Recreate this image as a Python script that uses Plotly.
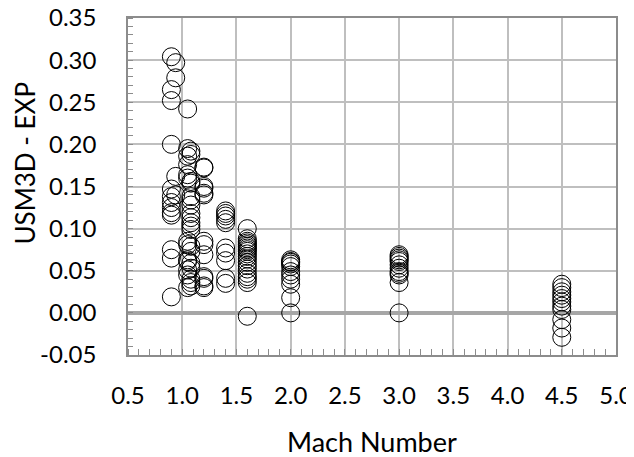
import plotly.graph_objects as go

# values, grouped by Mach number
mach_groups = [0.9, 0.94, 1.05, 1.08, 1.2, 1.4, 1.6, 2.0, 3.0, 4.5]

delta_m090 = [0.304, 0.265, 0.252, 0.200, 0.147, 0.138, 0.131, 0.125, 0.119,
              0.116, 0.075, 0.065, 0.019]
delta_m094 = [0.297, 0.279, 0.162, 0.140]
delta_m105 = [0.242, 0.195, 0.186, 0.176, 0.164, 0.160, 0.085, 0.081, 0.063,
              0.061, 0.051, 0.045, 0.030]
delta_m108 = [0.192, 0.188, 0.156, 0.154, 0.138, 0.134, 0.128, 0.118, 0.113,
              0.107, 0.103, 0.099, 0.079, 0.073, 0.059, 0.053, 0.040, 0.036,
              0.032]
delta_m120 = [0.173, 0.172, 0.150, 0.148, 0.142, 0.140, 0.085, 0.081, 0.069,
              0.043, 0.041, 0.032, 0.030]
delta_m140 = [0.121, 0.118, 0.115, 0.111, 0.107, 0.077, 0.071, 0.062, 0.041,
              0.035]
delta_m160 = [0.100, 0.088, 0.085, 0.083, 0.081, 0.079, 0.077, 0.075, 0.073,
              0.070, 0.067, 0.064, 0.060, 0.056, 0.052, 0.047, 0.043, 0.040,
              0.036, -0.004]
delta_m200 = [0.063, 0.061, 0.060, 0.058, 0.055, 0.049, 0.045, 0.040, 0.034,
              0.018, 0.000]
delta_m300 = [0.069, 0.067, 0.065, 0.063, 0.061, 0.057, 0.053, 0.049, 0.047,
              0.045, 0.036, 0.000]
delta_m450 = [0.034, 0.030, 0.025, 0.021, 0.017, 0.013, 0.008, 0.004, -0.008,
              -0.018, -0.029]

x_ticks = [0.5, 1.0, 1.5, 2.0, 2.5, 3.0, 3.5, 4.0, 4.5, 5.0]
y_ticks = [-0.05, 0.00, 0.05, 0.10, 0.15, 0.20, 0.25, 0.30, 0.35]

groups = [delta_m090, delta_m094, delta_m105, delta_m108, delta_m120,
          delta_m140, delta_m160, delta_m200, delta_m300, delta_m450]
mach = []
delta = []
for m, vals in zip(mach_groups, groups):
    mach += [m] * len(vals)
    delta += vals

FONT = "Lato, 'Open Sans', sans-serif"
GRID = "#bfbfbf"

fig = go.Figure()
fig.add_trace(go.Scatter(
    x=mach, y=delta, mode="markers",
    marker=dict(symbol="circle", size=18, color="rgba(0,0,0,0)",
                line=dict(color="black", width=1)),
    showlegend=False,
))

# page body adds an 8px margin, so the figure is a bit smaller than the window
fig.update_layout(
    width=626, height=449,
    margin=dict(l=120, r=18, t=10, b=102),
    paper_bgcolor="white", plot_bgcolor="white",
    font=dict(family=FONT, color="black", size=24),
)

fig.update_xaxes(
    range=[0.5, 5.0], tickvals=x_ticks, ticktext=[f"{v:.1f}" for v in x_ticks],
    showgrid=True, gridcolor=GRID, gridwidth=1.5,
    showline=True, linecolor="#8c8c8c", linewidth=1.5, mirror=True,
    ticks="", ticklabelstandoff=18, zeroline=False, automargin=False,
    ticklabeloverflow="allow",
    minor=dict(dtick=0.1, ticks="inside", ticklen=6, tickcolor="#8c8c8c",
               showgrid=False),
)
fig.update_yaxes(
    range=[-0.05, 0.35], tickvals=y_ticks, ticktext=[f"{v:.2f}" for v in y_ticks],
    showgrid=True, gridcolor=GRID, gridwidth=1.5,
    showline=True, linecolor="#8c8c8c", linewidth=1.5, mirror=True,
    ticks="", ticklabelstandoff=25, automargin=False,
    ticklabeloverflow="allow",
    zeroline=True, zerolinecolor="#a6a6a6", zerolinewidth=4,
    minor=dict(dtick=0.01, ticks="inside", ticklen=5, tickcolor="#8c8c8c",
               showgrid=False),
)

fig.add_annotation(
    text="USM3D - EXP", textangle=-90, showarrow=False,
    xref="paper", yref="paper", x=0, y=0.568, xshift=-103,
    xanchor="center", yanchor="middle", font=dict(size=26),
)
fig.add_annotation(
    text="Mach Number", showarrow=False,
    xref="paper", yref="paper", x=0.5, y=0, yshift=-86,
    xanchor="center", yanchor="middle", font=dict(size=27),
)

fig.write_html("out.html")
